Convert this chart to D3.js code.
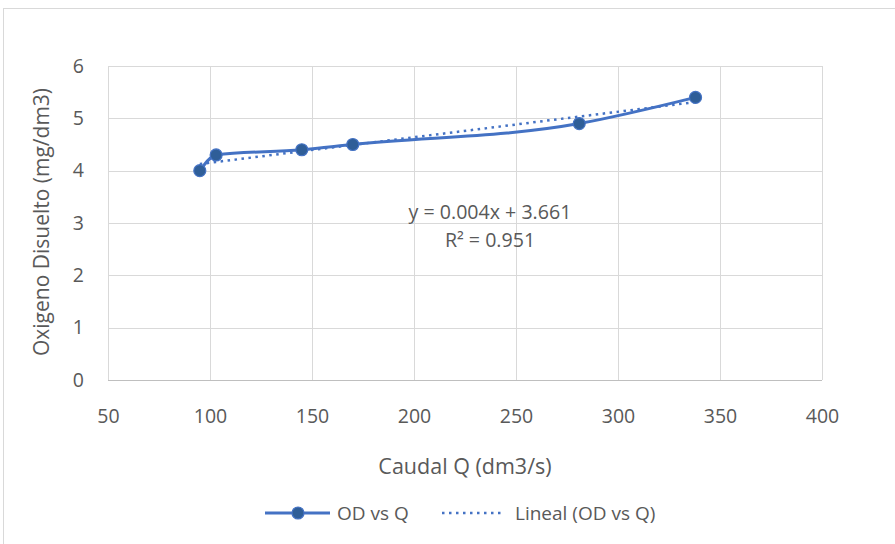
<!DOCTYPE html>
<html>
<head>
<meta charset="utf-8">
<script src="https://cdn.jsdelivr.net/npm/d3@7"></script>
<style>
  body { margin: 0; background: #fff; }
  text { font-family: "Open Sans", "Noto Sans", sans-serif; fill: #595959; }
</style>
</head>
<body>
<div id="chart"></div>
<script>
// data
var caudal = [95, 103, 145, 170, 281, 338]
var oxigeno = [4.0, 4.3, 4.4, 4.5, 4.9, 5.4]
var xTicks = [50, 100, 150, 200, 250, 300, 350, 400]
var yTicks = [0, 1, 2, 3, 4, 5, 6]
var eqText = ["y = 0.004x + 3.661", "R\u00b2 = 0.951"]
var seriesName = "OD vs Q"
var trendName = "Lineal (OD vs Q)"

var W = 895, H = 544
var margin = {top: 66, right: 73, bottom: 164, left: 108}
var blue = "#4472c4", markerFill = "#2f5e98"

var svg = d3.select("#chart").append("svg")
  .attr("width", W).attr("height", H)

// outer chart frame
svg.append("rect")
  .attr("x", 3.5).attr("y", 8.5)
  .attr("width", W + 10).attr("height", H + 10)
  .attr("fill", "none").attr("stroke", "#d9d9d9")

var x = d3.scaleLinear().domain([50, 400]).range([margin.left, W - margin.right])
var y = d3.scaleLinear().domain([0, 6]).range([H - margin.bottom, margin.top])

// grid
svg.append("g")
  .attr("stroke", "#d9d9d9").attr("stroke-width", 1)
  .call(g => g.selectAll("line.v").data(xTicks).join("line")
    .attr("x1", d => Math.round(x(d)) + 0.5).attr("x2", d => Math.round(x(d)) + 0.5)
    .attr("y1", y(6)).attr("y2", y(0)))
  .call(g => g.selectAll("line.h").data(yTicks).join("line")
    .attr("y1", d => Math.round(y(d)) + 0.5).attr("y2", d => Math.round(y(d)) + 0.5)
    .attr("x1", x(50)).attr("x2", x(400)))

// axis line
svg.append("line")
  .attr("x1", x(50)).attr("x2", x(400))
  .attr("y1", Math.round(y(0)) + 0.5).attr("y2", Math.round(y(0)) + 0.5)
  .attr("stroke", "#bfbfbf")

var xAxis = svg.append("g")
  .attr("transform", `translate(0,${y(0)})`)
  .call(d3.axisBottom(x).tickValues(xTicks).tickSize(0).tickPadding(29).tickFormat(d3.format("d")))
xAxis.select(".domain").remove()
xAxis.selectAll("text").attr("font-size", 19.5).attr("fill", "#595959")
  .style("font-family", "Open Sans")

var yAxis = svg.append("g")
  .attr("transform", `translate(${x(50)},0)`)
  .call(d3.axisLeft(y).tickValues(yTicks).tickSize(0).tickPadding(24).tickFormat(d3.format("d")))
yAxis.select(".domain").remove()
yAxis.selectAll("text").attr("font-size", 19.5).attr("fill", "#595959")
  .style("font-family", "Open Sans")

// axis titles
svg.append("text")
  .attr("x", (x(50) + x(400)) / 2).attr("y", 474)
  .attr("text-anchor", "middle").attr("font-size", 21.5)
  .text("Caudal Q (dm3/s)")

svg.append("text")
  .attr("transform", "translate(49,222) rotate(-90)")
  .attr("text-anchor", "middle").attr("font-size", 21)
  .text("Oxigeno Disuelto (mg/dm3)")

var pts = caudal.map((c, i) => [c, oxigeno[i]])

// linear trend from the points (least squares)
var mx = d3.mean(caudal), my = d3.mean(oxigeno)
var slope = d3.sum(pts, p => (p[0] - mx) * (p[1] - my)) / d3.sum(pts, p => (p[0] - mx) ** 2)
var icpt = my - slope * mx
var xr = d3.extent(caudal)

svg.append("line")
  .attr("x1", x(xr[0])).attr("y1", y(icpt + slope * xr[0]))
  .attr("x2", x(xr[1])).attr("y2", y(icpt + slope * xr[1]))
  .attr("stroke", blue).attr("stroke-width", 2.5)
  .attr("stroke-dasharray", "2.5,4.5").attr("stroke-linecap", "butt")

// smoothed series line
var line = d3.line().x(d => x(d[0])).y(d => y(d[1])).curve(d3.curveMonotoneX)
svg.append("path")
  .datum(pts)
  .attr("fill", "none").attr("stroke", blue).attr("stroke-width", 3)
  .attr("d", line)

svg.append("g").selectAll("circle").data(pts).join("circle")
  .attr("cx", d => x(d[0])).attr("cy", d => y(d[1])).attr("r", 6)
  .attr("fill", markerFill).attr("stroke", blue).attr("stroke-width", 1.2)

// equation label
svg.append("text")
  .attr("x", 490).attr("y", 219).attr("text-anchor", "middle").attr("font-size", 19.6)
  .text(eqText[0])
svg.append("text")
  .attr("x", 490).attr("y", 247).attr("text-anchor", "middle").attr("font-size", 19.6)
  .text(eqText[1])

// legend
var ly = 513
svg.append("line").attr("x1", 265).attr("x2", 330).attr("y1", ly).attr("y2", ly)
  .attr("stroke", blue).attr("stroke-width", 3)
svg.append("circle").attr("cx", 298).attr("cy", ly).attr("r", 6)
  .attr("fill", markerFill).attr("stroke", blue).attr("stroke-width", 1.2)
svg.append("text").attr("x", 337).attr("y", ly + 7).attr("font-size", 19).text(seriesName)

svg.append("line").attr("x1", 442).attr("x2", 505).attr("y1", ly).attr("y2", ly)
  .attr("stroke", blue).attr("stroke-width", 2.5).attr("stroke-dasharray", "2.5,4.5")
svg.append("text").attr("x", 515).attr("y", ly + 7).attr("font-size", 19).text(trendName)
</script>
</body>
</html>
